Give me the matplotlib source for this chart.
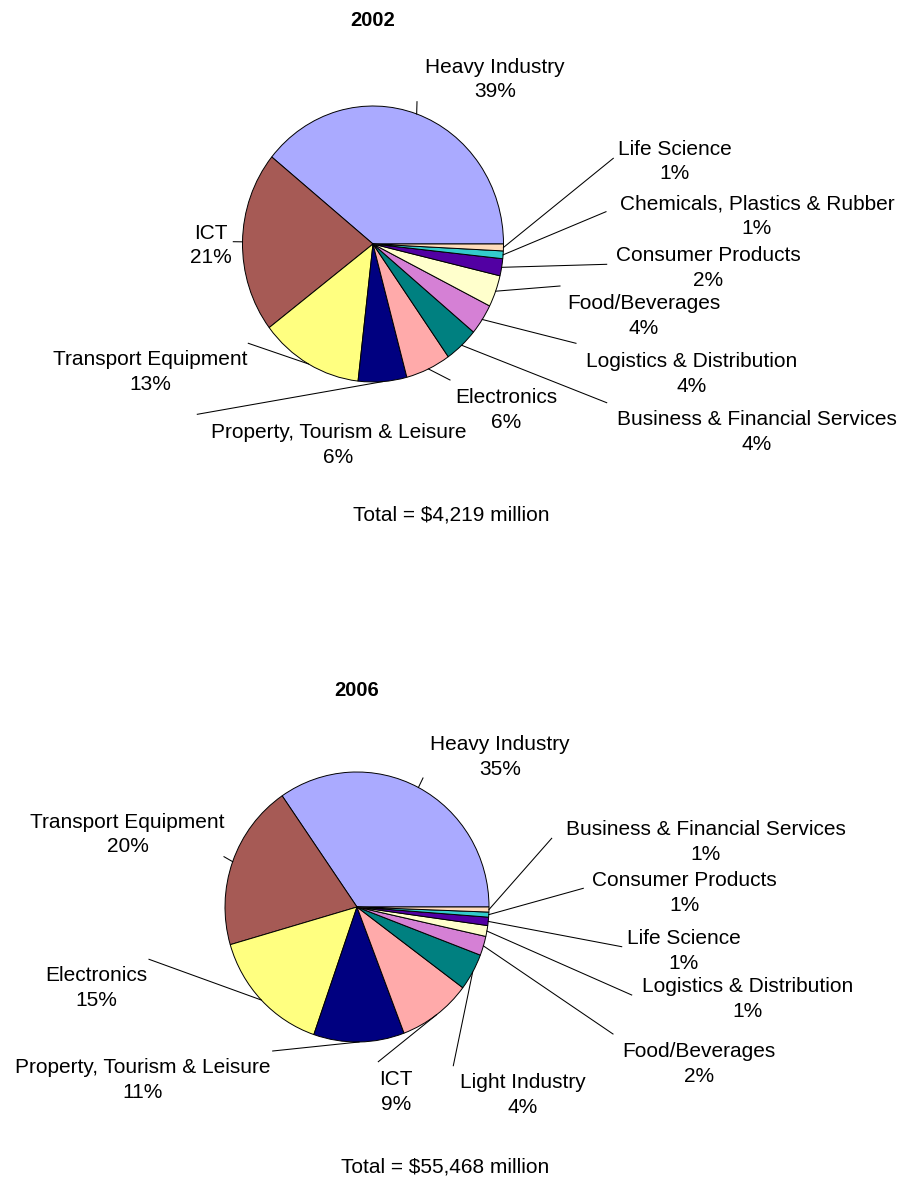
import matplotlib.pyplot as plt
import numpy as np

plt.rcParams['font.family'] = ['Liberation Sans', 'DejaVu Sans']

# dati (quote in %)
sectors_2002 = ['Heavy Industry', 'ICT', 'Transport Equipment', 'Property, Tourism & Leisure',
                'Electronics', 'Business & Financial Services', 'Logistics & Distribution',
                'Food/Beverages', 'Consumer Products', 'Chemicals, Plastics & Rubber', 'Life Science']
shares_2002 = [39.1, 21.2, 12.8, 6.0, 5.6, 4.2, 3.6, 3.7, 2.0, 0.9, 0.8]
total_2002 = 'Total = $4,219 million'

sectors_2006 = ['Heavy Industry', 'Transport Equipment', 'Electronics', 'Property, Tourism & Leisure',
                'ICT', 'Light Industry', 'Food/Beverages', 'Logistics & Distribution',
                'Life Science', 'Consumer Products', 'Business & Financial Services']
shares_2006 = [34.6, 19.9, 15.2, 11.1, 9.0, 4.4, 2.3, 1.3, 1.0, 0.6, 0.6]
total_2006 = 'Total = $55,468 million'

colors = ['#AAAAFF', '#A65A55', '#FFFF80', '#000080', '#FFAAAA', '#008080',
          '#D580D5', '#FFFFCC', '#5200A3', '#33CCCC', '#FFDDBB']

W, H = 903, 1182
FS = 15
DY = 2  # piccolo spostamento verticale delle etichette
fig = plt.figure(figsize=(W / 100, H / 100), dpi=100)

# posizioni etichette e fine delle linee guida (pixel)
layout_2002 = dict(center=(373, 244), rx=130.5, ry=138, title=(373, 20), total=(451, 515),
                   labels=[(495, 77.5), (211, 243.5), (150, 370), (338.5, 443), (506, 408),
                           (757, 430), (691.5, 372), (644, 314), (708, 266), (757, 214), (675, 159.5)],
                   ends=[(417, 101.7), (233.3, 241.7), (248.3, 343.3), (197.3, 414.3), (450, 380),
                         (606.7, 402.7), (576, 343.3), (560, 286), (606.7, 264.3), (606, 211.7),
                         (613.3, 158.3)])
layout_2006 = dict(center=(357, 907), rx=132, ry=135, title=(357, 690), total=(445, 1167),
                   labels=[(500, 755), (127.5, 832.5), (96.3, 986), (142.8, 1078), (396.3, 1090),
                           (522.5, 1093), (699, 1062), (747.7, 997), (683.8, 949), (684.7, 891),
                           (706, 840)],
                   ends=[(423, 778), (224, 856.7), (149, 959.3), (272.7, 1051), (378.3, 1061.7),
                         (453.3, 1065.7), (613, 1034), (631.7, 995), (621.7, 946.7), (583.3, 888.3),
                         (551.7, 838.3)])

charts = [('2002', sectors_2002, shares_2002, total_2002, layout_2002),
          ('2006', sectors_2006, shares_2006, total_2006, layout_2006)]

pad = 1.02
for year, sectors, shares, total, lay in charts:
    cx, cy = lay['center']
    rx, ry = lay['rx'], lay['ry']
    ax = fig.add_axes([(cx - rx * pad) / W, 1 - (cy + ry * pad) / H, 2 * rx * pad / W, 2 * ry * pad / H])
    ax.pie(shares, colors=colors, startangle=0, counterclock=True,
           wedgeprops=dict(edgecolor='black', linewidth=0.7))
    ax.set_xlim(-pad, pad)
    ax.set_ylim(-pad, pad)
    ax.set_aspect('auto')
    ax.axis('off')

over = fig.add_axes([0, 0, 1, 1])
over.set_xlim(0, W)
over.set_ylim(H, 0)
over.axis('off')

for year, sectors, shares, total, lay in charts:
    cx, cy = lay['center']
    rx, ry = lay['rx'], lay['ry']
    v = np.array(shares)
    mid = np.deg2rad(360 * (np.cumsum(v) - v / 2) / v.sum())
    for name, val, a, lab, end in zip(sectors, shares, mid, lay['labels'], lay['ends']):
        sx, sy = cx + rx * np.cos(a), cy - ry * np.sin(a)
        over.plot([sx, end[0]], [sy, end[1]], color='black', lw=0.75)
        over.text(lab[0], lab[1] + DY, f'{name}\n{round(val)}%', ha='center', va='center',
                  fontsize=FS, linespacing=1.35)
    over.text(*lay['title'], year, ha='center', va='center', fontsize=14.5, fontweight='bold')
    over.text(*lay['total'], total, ha='center', va='center', fontsize=FS)

fig.savefig('out.png', dpi=100)
